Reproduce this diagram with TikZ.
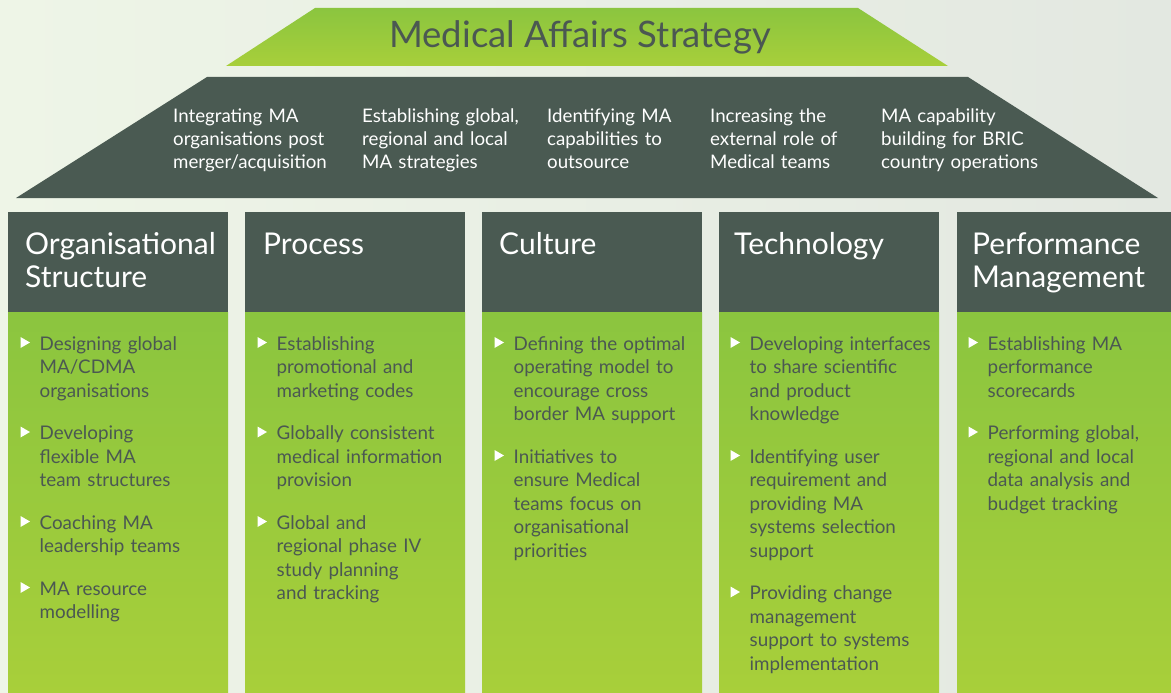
\documentclass[tikz,border=0pt]{standalone}
\usepackage{fontspec}
\setmainfont{Lato}
\usetikzlibrary{calc}

\definecolor{fondoA}{HTML}{EEF5E7}
\definecolor{fondoB}{HTML}{E3E8E1}
\definecolor{pizarra}{HTML}{4A5A52}
\definecolor{verdeA}{HTML}{8BC53F}
\definecolor{verdeB}{HTML}{A8CF3A}
\definecolor{texto}{HTML}{4B5852}

% viñeta blanca delante de cada punto
\newcommand{\bul}[1]{\fill[white] ($(#1.base west)+(-19,-13)$) -- ++(9.5,5.5) -- ++(-9.5,5.5) -- cycle;}

\begin{document}
\begin{tikzpicture}[x=1pt, y=-1pt,
    titulo/.style={anchor=base, text=texto, inner sep=0pt, font=\fontsize{36.5}{42}\selectfont},
    meta/.style={anchor=base west, text=white, text width=185pt, align=left, inner sep=0pt, font=\fontsize{18.7}{23.5}\selectfont},
    cabecera/.style={anchor=base west, text=white, text width=215pt, align=left, inner sep=0pt, font=\fontsize{30}{33}\selectfont},
    item/.style={anchor=base west, text=texto, text width=200pt, align=left, inner sep=0pt, font=\fontsize{18.8}{23.5}\selectfont},
    columna/.style={fill=pizarra},
    cuerpo/.style={top color=verdeA, bottom color=verdeB}
    ]

    \useasboundingbox (0,0) rectangle (1171,693);
    \shade[left color=fondoA, right color=fondoB] (0,0) rectangle (1171,693);

    % Techo
    \shade[cuerpo] (315,8) -- (858,8) -- (948,66) -- (226,66) -- cycle;
    \fill[pizarra] (207,77) -- (968,77) -- (1158,198) -- (16,198) -- cycle;
    \node[titulo] (Titulo) at (580,48) {Medical Affairs Strategy};

    % Objetivos
    \node[meta] (Integrar) at (173,122) {Integrating MA\\organisations post\\merger/acquisition};
    \node[meta] (Estrategias) at (362,122) {Establishing global,\\regional and local\\MA strategies};
    \node[meta] (Externalizar) at (547,122) {Identifying MA\\capabilities to\\outsource};
    \node[meta] (RolExterno) at (710,122) {Increasing the\\external role of\\Medical teams};
    \node[meta] (BRIC) at (881,122) {MA capability\\building for BRIC\\country operations};

    % Columnas
    \foreach \x in {8,245,482,719,957} {
        \fill[columna] (\x,212) rectangle ++(220,100);
        \shade[cuerpo] (\x,312) rectangle ++(220,381);
    }

    \node[cabecera] (Organizacion) at (25,254) {Organisational\\Structure};
    \node[cabecera] (Proceso) at (263,254) {Process};
    \node[cabecera] (Cultura) at (499,254) {Culture};
    \node[cabecera] (Tecnologia) at (734,254) {Technology};
    \node[cabecera] (Rendimiento) at (972,254) {Performance\\Management};

    % Organisational Structure
    \node[item] (OrgA) at (39.5,350) {Designing global\\MA/CDMA\\organisations};
    \node[item] (OrgB) at (39.5,439.5) {Developing\\flexible MA\\team structures};
    \node[item] (OrgC) at (39.5,529) {Coaching MA\\leadership teams};
    \node[item] (OrgD) at (39.5,595) {MA resource\\modelling};

    % Process
    \node[item] (ProA) at (276.5,350) {Establishing\\promotional and\\marketing codes};
    \node[item] (ProB) at (276.5,439.5) {Globally consistent\\medical information\\provision};
    \node[item] (ProC) at (276.5,529) {Global and\\regional phase IV\\study planning\\and tracking};

    % Culture
    \node[item] (CulA) at (513.5,350) {Defining the optimal\\operating model to\\encourage cross\\border MA support};
    \node[item] (CulB) at (513.5,463) {Initiatives to\\ensure Medical\\teams focus on\\organisational\\priorities};

    % Technology
    \node[item] (TecA) at (749.5,350) {Developing interfaces\\to share scientific\\and product\\knowledge};
    \node[item] (TecB) at (749.5,463) {Identifying user\\requirement and\\providing MA\\systems selection\\support};
    \node[item] (TecC) at (749.5,599.5) {Providing change\\management\\support to systems\\implementation};

    % Performance Management
    \node[item] (RenA) at (987.5,350) {Establishing MA\\performance\\scorecards};
    \node[item] (RenB) at (987.5,439.5) {Performing global,\\regional and local\\data analysis and\\budget tracking};

    % Viñetas
    \foreach \n in {OrgA,OrgB,OrgC,OrgD,ProA,ProB,ProC,CulA,CulB,TecA,TecB,TecC,RenA,RenB} {
        \bul{\n}
    }

\end{tikzpicture}
\end{document}
